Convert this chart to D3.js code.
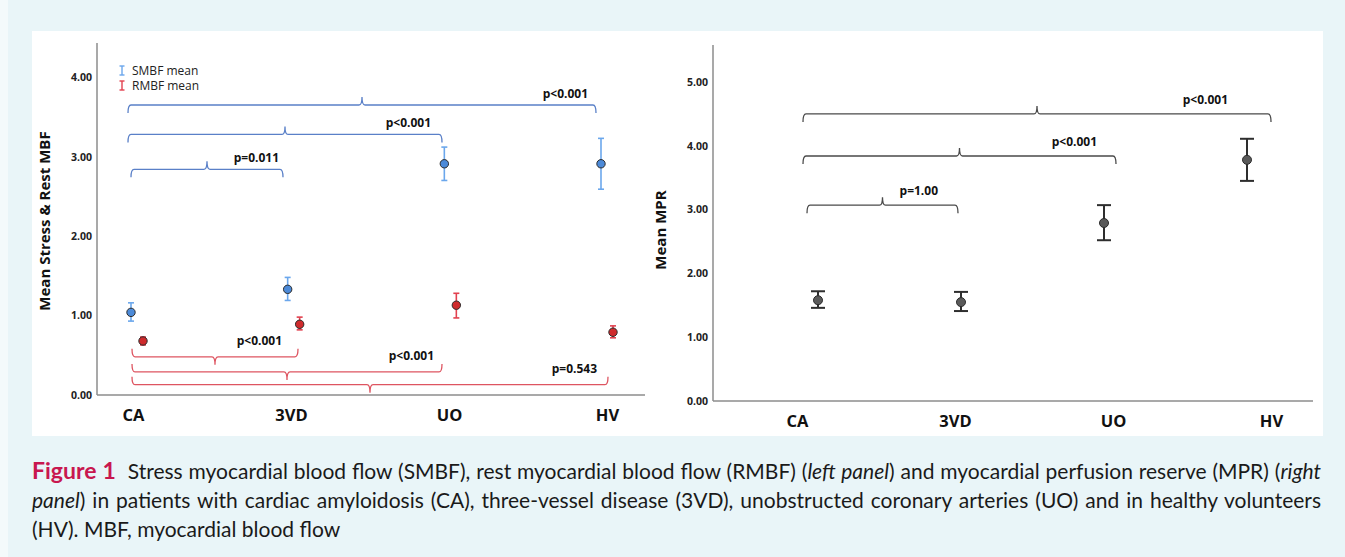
<!DOCTYPE html>
<html>
<head>
<meta charset="utf-8">
<script src="https://cdn.jsdelivr.net/npm/d3@7"></script>
<style>
  body { margin: 0; background: #e9f5f8; overflow: hidden; }
  #wrap { position: relative; width: 1345px; height: 557px; }
  svg { position: absolute; left: 0; top: 0; }
  .cap { position: absolute; left: 32px; width: 1289px; font-family: Lato, "Open Sans", sans-serif;
         font-size: 21px; line-height: 29px; color: #1a1a1a; white-space: nowrap; }
  .cap.just { text-align: justify; text-align-last: justify; white-space: normal; }
  .cap b { color: #c8174f; font-size: 23px; font-weight: 700; }
</style>
</head>
<body>
<div id="wrap"></div>
<script>
// ---- data ----
var categories = ["CA", "3VD", "UO", "HV"];

var smbfMean = [1.04, 1.33, 2.91, 2.91];
var smbfLow  = [0.93, 1.19, 2.70, 2.59];
var smbfHigh = [1.16, 1.48, 3.12, 3.23];

var rmbfMean = [0.68, 0.89, 1.13, 0.79];
var rmbfLow  = [0.63, 0.82, 0.97, 0.72];
var rmbfHigh = [0.73, 0.98, 1.28, 0.87];

var mprMean = [1.58, 1.55, 2.79, 3.78];
var mprLow  = [1.46, 1.41, 2.52, 3.45];
var mprHigh = [1.72, 1.71, 3.07, 4.11];

var leftTicks = [0, 1, 2, 3, 4];
var rightTicks = [0, 1, 2, 3, 4, 5];

// comparisons: group pair, bracket level (axis units), p label
var smbfTests = [
  { from: "CA", to: "HV", level: 3.65, p: "p<0.001" },
  { from: "CA", to: "UO", level: 3.28, p: "p<0.001" },
  { from: "CA", to: "3VD", level: 2.84, p: "p=0.011" }
];
var rmbfTests = [
  { from: "CA", to: "3VD", level: 0.48, p: "p<0.001" },
  { from: "CA", to: "UO", level: 0.29, p: "p<0.001" },
  { from: "CA", to: "HV", level: 0.13, p: "p=0.543" }
];
var mprTests = [
  { from: "CA", to: "HV", level: 4.50, p: "p<0.001" },
  { from: "CA", to: "UO", level: 3.84, p: "p<0.001" },
  { from: "CA", to: "3VD", level: 3.07, p: "p=1.00" }
];

// ---- layout (pixels) ----
var smbfEnds = [[-5, -11], [-5, -7], [-2, -8]];
var rmbfEnds = [[-1, 7], [-1, -7], [-1, 1]];
var mprEnds  = [[6, 0], [6, 3], [10, 3]];
var smbfLabelDx = [-8, -11, -4];
var rmbfLabelDx = [-16, -8, -11];
var mprLabelDx  = [-43, -19, -20];

var W = 1345, H = 557;
var font = "'Open Sans', 'DejaVu Sans', sans-serif";

var svg = d3.select("#wrap").append("svg")
    .attr("width", W)
    .attr("height", H);

svg.append("rect").attr("x", 0).attr("y", 0).attr("width", 8).attr("height", H).attr("fill", "#f4fafb");
svg.append("rect").attr("x", 32).attr("y", 31).attr("width", 1291).attr("height", 405).attr("fill", "#fff");

// bracket path; dir = 1 -> ends down, cusp up
function bracket(x1, x2, y, dir) {
    var h = 8, r = 3, xm = (x1 + x2) / 2;
    return "M" + x1 + "," + (y + dir * h) +
        "Q" + x1 + "," + y + " " + (x1 + r) + "," + y +
        "L" + (xm - 3) + "," + y +
        "Q" + xm + "," + y + " " + xm + "," + (y - dir * h) +
        "Q" + xm + "," + y + " " + (xm + 3) + "," + y +
        "L" + (x2 - r) + "," + y +
        "Q" + x2 + "," + y + " " + x2 + "," + (y + dir * h);
}

function drawAxes(g, y, ticks, x0, x1, yTop, yBottom, labelScale, title, titleX, titleY) {
    g.append("line").attr("x1", x0).attr("x2", x0).attr("y1", yTop).attr("y2", yBottom)
        .attr("stroke", "#8c8c8c").attr("stroke-width", 1.5);
    g.append("line").attr("x1", x0).attr("x2", x1).attr("y1", yBottom).attr("y2", yBottom)
        .attr("stroke", "#8c8c8c").attr("stroke-width", 1.5);

    var ya = g.append("g").attr("transform", `translate(${x0},0)`)
        .call(d3.axisLeft(y).tickValues(ticks).tickFormat(d3.format(".2f")).tickSize(0).tickPadding(5));
    ya.select(".domain").remove();
    ya.selectAll("text").attr("font-family", font).attr("font-size", 10.5)
        .attr("font-weight", 700).attr("fill", "#222");

    var xa = g.append("g").attr("transform", `translate(0,${yBottom})`)
        .call(d3.axisBottom(labelScale).tickSize(0).tickPadding(14));
    xa.select(".domain").remove();
    xa.selectAll("text").attr("font-family", font).attr("font-size", 16.5)
        .attr("font-weight", 700).attr("fill", "#111");

    g.append("text")
        .attr("transform", `translate(${titleX},${titleY}) rotate(-90)`)
        .attr("text-anchor", "middle")
        .attr("dy", "0.35em")
        .attr("font-family", font).attr("font-size", 15).attr("font-weight", 700)
        .attr("fill", "#111")
        .text(title);
}

function drawErrors(g, xs, means, lows, highs, color, dot, capW, lw, rad) {
    var rows = categories.map((c, i) => ({ c: c, m: means[i], lo: lows[i], hi: highs[i] }));
    var eg = g.append("g");
    eg.selectAll("line.v").data(rows).join("line").attr("class", "v")
        .attr("x1", d => xs.x(d.c)).attr("x2", d => xs.x(d.c))
        .attr("y1", d => xs.y(d.lo)).attr("y2", d => xs.y(d.hi))
        .attr("stroke", color).attr("stroke-width", lw);
    ["lo", "hi"].forEach(k => {
        eg.selectAll("line." + k).data(rows).join("line").attr("class", k)
            .attr("x1", d => xs.x(d.c) - capW / 2).attr("x2", d => xs.x(d.c) + capW / 2)
            .attr("y1", d => xs.y(d[k])).attr("y2", d => xs.y(d[k]))
            .attr("stroke", color).attr("stroke-width", lw);
    });
    eg.selectAll("circle").data(rows).join("circle")
        .attr("cx", d => xs.x(d.c)).attr("cy", d => xs.y(d.m))
        .attr("r", rad).attr("fill", dot).attr("stroke", "#2b2b2b").attr("stroke-width", 1);
}

function drawTests(g, x, y, tests, ends, labelDx, color, dir, labelGap) {
    tests.forEach((t, i) => {
        var x1 = x(t.from) + ends[i][0];
        var x2 = x(t.to) + ends[i][1];
        var yy = y(t.level);
        g.append("path").attr("d", bracket(x1, x2, yy, dir))
            .attr("fill", "none").attr("stroke", color).attr("stroke-width", 1.3);
        g.append("text")
            .attr("x", x2 + labelDx[i]).attr("y", yy - labelGap)
            .attr("text-anchor", "end")
            .attr("font-family", font).attr("font-size", 12).attr("font-weight", 700)
            .attr("fill", "#111")
            .text(t.p);
    });
}

// ---- left panel: SMBF / RMBF ----
var gL = svg.append("g");
var yL = d3.scaleLinear().domain([0, 4.43]).range([395, 43]);
var xL = d3.scalePoint().domain(categories).range([133, 607]);
var xLc = d3.scalePoint().domain(categories).range([137, 607]);

drawAxes(gL, yL, leftTicks, 97, 645, 43, 395, xL, "Mean Stress & Rest MBF", 45, 221);

drawTests(gL, xL, yL, smbfTests, smbfEnds, smbfLabelDx, "#5a80c8", 1, 7);
drawTests(gL, xL, yL, rmbfTests, rmbfEnds, rmbfLabelDx, "#de5561", -1, 12);

drawErrors(gL, { x: c => xLc(c) - 6, y: yL }, smbfMean, smbfLow, smbfHigh, "#6ba7ec", "#4c8ad8", 6, 1.6, 4.2);
drawErrors(gL, { x: c => xLc(c) + 6, y: yL }, rmbfMean, rmbfLow, rmbfHigh, "#e2414f", "#cf2a2c", 6, 1.6, 4.2);

// legend
var legend = [{ name: "SMBF mean", color: "#6ba7ec" }, { name: "RMBF mean", color: "#e2414f" }];
var lg = gL.selectAll("g.leg").data(legend).join("g").attr("class", "leg")
    .attr("transform", (d, i) => `translate(122,${71 + i * 15})`);
lg.append("line").attr("x1", 0).attr("x2", 0).attr("y1", -5).attr("y2", 4)
    .attr("stroke", d => d.color).attr("stroke-width", 1.4);
lg.append("line").attr("x1", -2.5).attr("x2", 2.5).attr("y1", -5).attr("y2", -5)
    .attr("stroke", d => d.color).attr("stroke-width", 1.4);
lg.append("line").attr("x1", -2.5).attr("x2", 2.5).attr("y1", 4).attr("y2", 4)
    .attr("stroke", d => d.color).attr("stroke-width", 1.4);
lg.append("text").attr("x", 10).attr("y", 4)
    .attr("font-family", font).attr("font-size", 12).attr("fill", "#222")
    .text(d => d.name);

// ---- right panel: MPR ----
var gR = svg.append("g");
var yR = d3.scaleLinear().domain([0, 5.58]).range([401, 45]);
var xR = d3.scalePoint().domain(categories).range([797, 1271]);
var xRm = d3.scalePoint().domain(categories).range([818, 1247]);

drawAxes(gR, yR, rightTicks, 713, 1313, 45, 401, xR, "Mean MPR", 661, 230);
drawTests(gR, xR, yR, mprTests, mprEnds, mprLabelDx, "#4a4a4a", 1, 10);
drawErrors(gR, { x: c => xRm(c), y: yR }, mprMean, mprLow, mprHigh, "#2e2e2e", "#5a5a5a", 14, 2, 4.5);

// ---- caption ----
var wrap = d3.select("#wrap");
var captionLines = [
    { html: "<b>Figure 1</b>&nbsp; Stress myocardial blood flow (SMBF), rest myocardial blood flow (RMBF) (<i>left panel</i>) and myocardial perfusion reserve (MPR) (<i>right</i>", just: true },
    { html: "<i>panel</i>) in patients with cardiac amyloidosis (CA), three-vessel disease (3VD), unobstructed coronary arteries (UO) and in healthy volunteers", just: true },
    { html: "(HV). MBF, myocardial blood flow", just: false }
];
wrap.selectAll("div.cap").data(captionLines).join("div")
    .attr("class", d => d.just ? "cap just" : "cap")
    .style("top", (d, i) => (456 + i * 29) + "px")
    .html(d => d.html);
</script>
</body>
</html>
